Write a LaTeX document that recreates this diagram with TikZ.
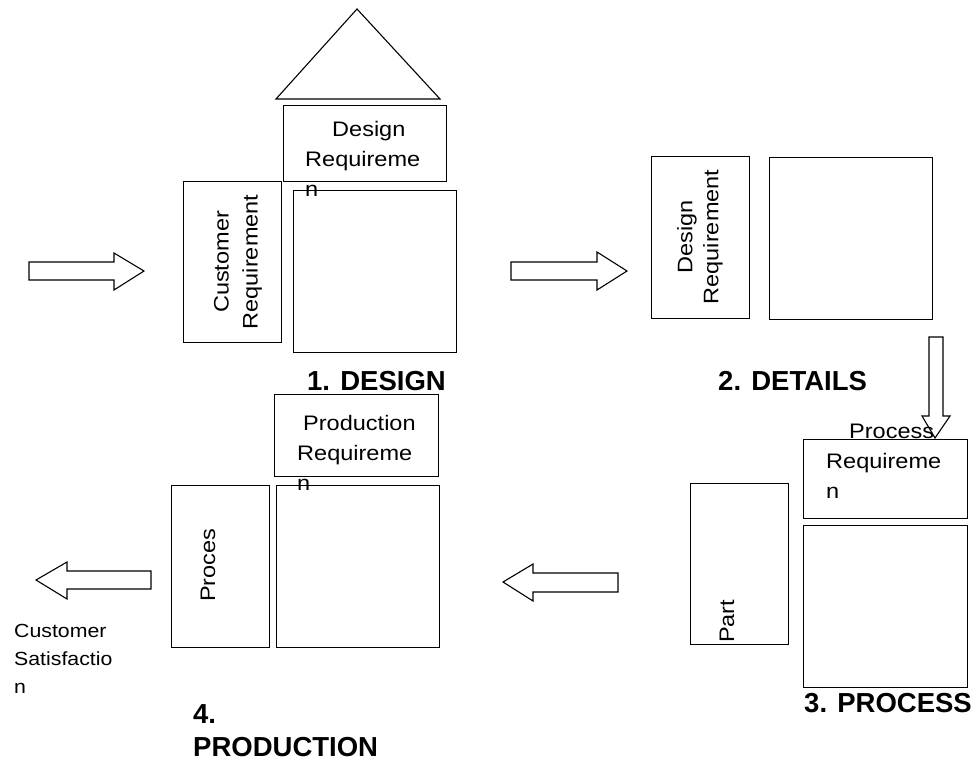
\documentclass[tikz,border=0pt]{standalone}
\usepackage{fontspec}
\setmainfont{Liberation Sans}[FakeStretch=1.12]
\newfontfamily\titlefont{Liberation Sans Bold}
\begin{document}
\begin{tikzpicture}[x=1pt,y=-1pt,
  box/.style={draw,line width=1.1pt,inner sep=0pt,anchor=north west},
  blockarrow/.style={draw,line width=1.1pt,line join=miter},
  txt/.style={inner sep=0pt,font=\fontsize{21}{30}\selectfont,align=left},
  smalltxt/.style={inner sep=0pt,font=\fontsize{19}{28}\selectfont,align=left},
  title/.style={inner sep=0pt,font=\fontsize{27.5}{33}\titlefont,align=left}]
\fill[white] (0,0) rectangle (976,765);
\useasboundingbox (0,0) rectangle (976,765);
% ---------- 1. DESIGN ----------
\draw[line width=1.1pt,line join=miter] (276,99) -- (357,9) -- (440,99) -- cycle;
\node[box,minimum width=163pt,minimum height=76pt] (dr1) at (283,105) {};
\node[box,minimum width=98pt,minimum height=161pt] (cr1) at (183,181) {};
\node[box,minimum width=163pt,minimum height=162pt] (sq1) at (293,190) {};
\node[txt,anchor=base west] (dr1t) at (305,196) {\hspace*{27pt}Design\\Requireme\\n};
\node[txt,align=center,rotate=90,font=\fontsize{21}{29}\selectfont] (cr1t) at (238,262) {Customer\\Requirement};
\node[title,anchor=base west] (t1) at (307,390) {1. DESIGN};
% ---------- 2. DETAILS ----------
\node[box,minimum width=98pt,minimum height=162pt] (dr2) at (651,156) {};
\node[box,minimum width=163pt,minimum height=162pt] (sq2) at (769,157) {};
\node[txt,align=center,rotate=90,font=\fontsize{21}{26}\selectfont] (dr2t) at (700,237) {Design\\Requirement};
\node[title,anchor=base west] (t2) at (718,390) {2. DETAILS};
% ---------- 3. PROCESS ----------
\node[box,minimum width=164pt,minimum height=79pt] (pr3) at (803,439) {};
\node[box,minimum width=164pt,minimum height=162pt] (sq3) at (803,525) {};
\node[box,minimum width=98pt,minimum height=161pt] (part3) at (690,483) {};
\node[txt,anchor=base west] (pr3t) at (826,498) {\hspace*{23pt}Process\\Requireme\\n};
\node[txt,anchor=base west,rotate=90] (part3t) at (734,643) {Part};
\node[title,anchor=base west] (t3) at (804,712) {3. PROCESS};
% ---------- 4. PRODUCTION ----------
\node[box,minimum width=164pt,minimum height=82pt] (pr4) at (274,394) {};
\node[box,minimum width=98pt,minimum height=162pt] (pc4) at (171,485) {};
\node[box,minimum width=163pt,minimum height=162pt] (sq4) at (276,485) {};
\node[txt,anchor=base west] (pr4t) at (297,490) {\hspace*{6pt}Production\\Requireme\\n};
\node[txt,anchor=base west,rotate=90] (pc4t) at (215,602) {Proces};
\node[title,anchor=base west] (t4) at (193,756) {4.\\PRODUCTION};
\node[smalltxt,anchor=base west] (cs) at (14,693) {Customer\\Satisfactio\\n};
% ---------- block arrows ----------
\draw[blockarrow] (29,262) -- (114,262) -- (114,253) -- (144,271) -- (114,290) -- (114,280) -- (29,280) -- cycle;
\draw[blockarrow] (511,262) -- (597,262) -- (597,252) -- (627,271) -- (597,290) -- (597,280) -- (511,280) -- cycle;
\draw[blockarrow] (929,337) -- (943,337) -- (943,416) -- (950,416) -- (935,438) -- (922,416) -- (929,416) -- cycle;
\draw[blockarrow] (618,573) -- (533,573) -- (533,564) -- (503,582) -- (533,601) -- (533,592) -- (618,592) -- cycle;
\draw[blockarrow] (151,571) -- (67,571) -- (67,562) -- (36,580) -- (67,599) -- (67,589) -- (151,589) -- cycle;
\end{tikzpicture}
\end{document}
